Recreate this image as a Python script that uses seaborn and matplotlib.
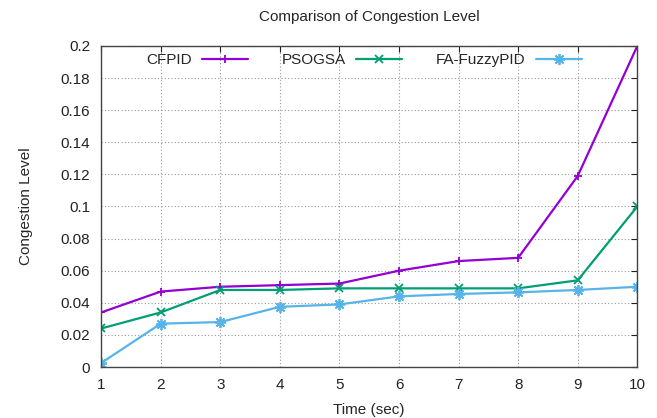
import matplotlib
matplotlib.use("Agg")
import matplotlib.pyplot as plt
import seaborn as sns
import pandas as pd

# values
time_sec = [1, 2, 3, 4, 5, 6, 7, 8, 9, 10]
cfpid = [0.034, 0.047, 0.050, 0.051, 0.052, 0.060, 0.066, 0.068, 0.119, 0.200]
psogsa = [0.024, 0.034, 0.048, 0.048, 0.049, 0.049, 0.049, 0.049, 0.054, 0.100]
fa_fuzzypid = [0.0025, 0.027, 0.028, 0.0375, 0.039, 0.044, 0.0455, 0.0465, 0.048, 0.050]

series_names = ["CFPID", "PSOGSA", "FA-FuzzyPID"]
colors = ["#9400D3", "#009E73", "#56B4E9"]
markers = ["+", "x", (8, 2, 0)]
marker_sizes = [6, 6, 8]

df = pd.DataFrame({
    "time": time_sec * 3,
    "level": cfpid + psogsa + fa_fuzzypid,
    "method": [n for n in series_names for _ in time_sec],
})

sns.set_style("white")
plt.rcParams["font.family"] = ["Liberation Sans", "DejaVu Sans"]

fig = plt.figure(figsize=(6.57, 4.18), dpi=100)
ax = fig.add_axes([0.154, 0.122, 0.816, 0.768])

for name, col, mk, ms in zip(series_names, colors, markers, marker_sizes):
    sns.lineplot(data=df[df["method"] == name], x="time", y="level", color=col,
                 marker=mk, markersize=ms, markeredgewidth=1.3, markeredgecolor=col,
                 linewidth=1.6, label=name, ax=ax)

ax.set_xlim(1, 10)
ax.set_ylim(0, 0.2)
ax.set_xticks(time_sec)
ax.set_yticks([0, 0.02, 0.04, 0.06, 0.08, 0.1, 0.12, 0.14, 0.16, 0.18, 0.2])
ax.set_yticklabels(["0", "0.02", "0.04", "0.06", "0.08", "0.1", "0.12", "0.14", "0.16", "0.18", "0.2"])
ax.grid(True, linestyle=(0, (1, 2)), color="#999999", linewidth=0.8)
ax.tick_params(direction="in", top=True, right=True, length=4, pad=8,
               labelsize=11, colors="#222222")
for s in ax.spines.values():
    s.set_color("#444444")
    s.set_linewidth(1.0)

ax.set_xlabel("Time (sec)", fontsize=11, labelpad=8)
ax.set_ylabel("Congestion Level", fontsize=11, labelpad=20)
ax.set_title("Comparison of Congestion Level", fontsize=11, pad=18)

ax.legend(loc="upper center", ncol=3, frameon=False, markerfirst=False,
          fontsize=11, handlelength=3.0, handletextpad=0.7, columnspacing=2.2,
          bbox_to_anchor=(0.49, 1.02))

fig.savefig("out.png", dpi=100)
